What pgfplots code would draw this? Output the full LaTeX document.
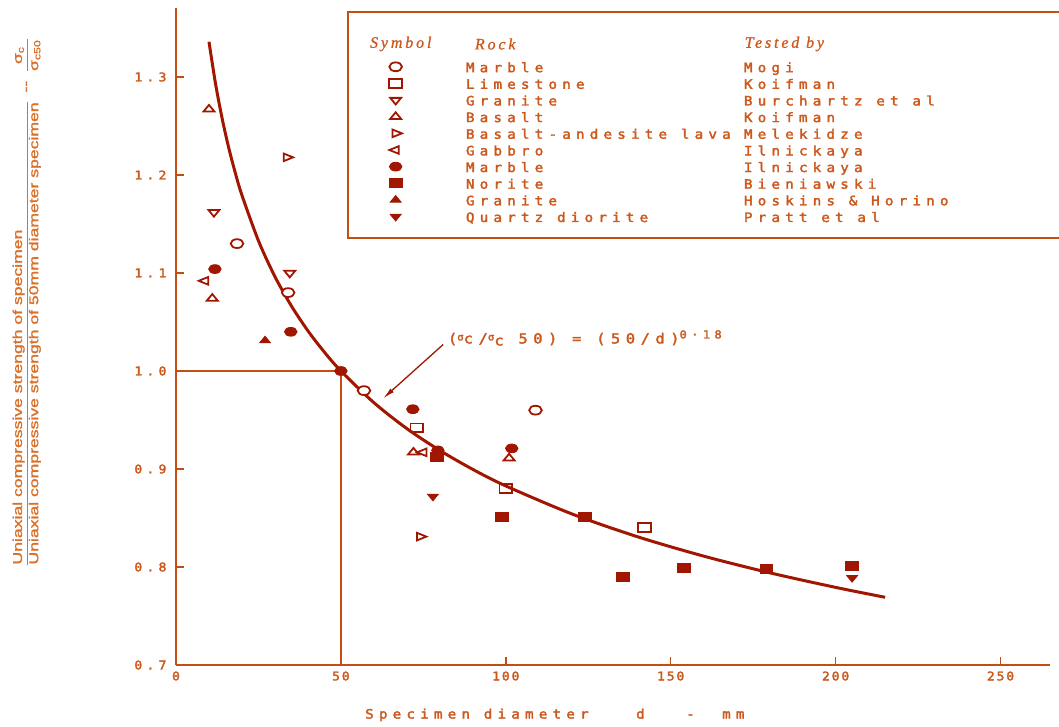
\documentclass[border=0pt]{standalone}
\usepackage{fontspec}
\usepackage{graphicx}
\usepackage{pgfplots}
\pgfplotsset{compat=1.18}
\usetikzlibrary{arrows.meta}

\setmainfont{DejaVu Sans Mono}
% typewriter-like lettering used throughout the figure
\newfontfamily\lgfont[FakeStretch=1.1,LetterSpace=40,FakeBold=2.5]{DejaVu Sans Mono}
\newfontfamily\tkfont[FakeStretch=1.1,LetterSpace=15,FakeBold=2.5]{DejaVu Sans Mono}
\newfontfamily\ytkfont[FakeStretch=1.1,LetterSpace=35,FakeBold=2.5]{DejaVu Sans Mono}
\newfontfamily\hdfont[LetterSpace=18,FakeBold=1]{Liberation Serif}
\newfontfamily\ylfont[FakeBold=1.5]{Liberation Sans}

\definecolor{ink}{RGB}{160,22,0}
\definecolor{axc}{RGB}{195,78,18}
\definecolor{txt}{RGB}{205,88,28}
\definecolor{ylab}{RGB}{218,112,42}

% one legend row: strut, gap after the symbol, rock, tested by
\newcommand\lgrow[2]{\rule[-4.3bp]{0pt}{16.55bp}\hspace*{64bp}\makebox[278bp][l]{#1}\makebox[330bp][l]{#2}}

\pgfplotsset{
  openmk/.style={only marks, mark size=6.3bp,
    mark options={solid, yscale=0.7, rotate=#1, draw=ink, fill=white, line width=1.8pt}},
  openmk/.default=0,
  fullmk/.style={only marks, mark size=6.3bp,
    mark options={solid, yscale=0.7, rotate=#1, draw=ink, fill=ink, line width=0.8pt}},
  fullmk/.default=0,
}

\begin{document}
\begin{tikzpicture}
\begin{axis}[
  name=ax,
  scale only axis,
  width=874bp, height=657bp,
  xmin=0, xmax=265, ymin=0.7, ymax=1.3704,
  clip=false,
  axis x line=bottom, axis y line=left,
  axis line style={axc, line width=1.8pt, -},
  xtick={0,50,100,150,200,250},
  xticklabels={0,50,100,150,200,250},
  ytick={0.7,0.8,0.9,1.0,1.1,1.2,1.3},
  yticklabels={0.7,0.8,0.9,1.0,1.1,1.2,1.3},
  tick align=inside,
  major tick length=8bp,
  tick style={axc, line width=1.5pt},
  xticklabel style={font=\tkfont\fontsize{12}{14}\selectfont, text=txt, yshift=-3bp},
  yticklabel style={font=\ytkfont\fontsize{12}{14}\selectfont, text=txt, anchor=east, xshift=-6bp},
  legend style={at={(0.2439,0.9213)}, anchor=north west, draw=none, fill=none,
    inner sep=0pt, row sep=2.9bp,
    font=\lgfont\fontsize{13}{15}\selectfont, text=txt,
    nodes={inner sep=0pt}},
  legend cell align=left,
  legend image code/.code={\draw[#1] plot coordinates {(0bp,0bp)};},
]

% size-effect relation (sigma_c / sigma_c50) = (50/d)^0.18
\addplot[ink, line width=3pt, smooth, no marks, forget plot] coordinates {
  (10,1.3360) (12,1.2929) (14,1.2575) (16,1.2276) (18,1.2019) (20,1.1793)
  (25,1.1329) (30,1.0963) (35,1.0663) (40,1.0410) (45,1.0192) (50,1.0000)
  (60,0.9677) (70,0.9412) (80,0.9189) (90,0.8996) (100,0.8827) (120,0.8542)
  (140,0.8308) (160,0.8111) (180,0.7941) (200,0.7792) (215,0.7691)
};

% reference strength at d = 50 mm
\addplot[axc, line width=1.3pt, no marks, forget plot] coordinates {(0,1.0) (50,1.0) (50,0.7)};

% Marble - Mogi
\addplot[openmk] coordinates {(18.5,1.130) (34,1.080) (57,0.980) (109,0.960)};
\addlegendentry{\lgrow{Marble}{Mogi}}
% Limestone - Koifman
\addplot[openmk, mark=square] coordinates {(73,0.942) (100,0.880) (142,0.840)};
\addlegendentry{\lgrow{Limestone}{Koifman}}
% Granite - Burchartz et al
\addplot[openmk=180, mark=triangle] coordinates {(11.5,1.162) (34.5,1.100)};
\addlegendentry{\lgrow{Granite}{Burchartz et al}}
% Basalt - Koifman
\addplot[openmk, mark=triangle] coordinates {(10,1.267) (11,1.074) (72,0.917) (101,0.911)};
\addlegendentry{\lgrow{Basalt}{Koifman}}
% Basalt-andesite lava - Melekidze
\addplot[openmk=-90, mark=triangle] coordinates {(33.6,1.218) (74,0.831)};
\addlegendentry{\lgrow{Basalt-andesite lava}{Melekidze}}
% Gabbro - Ilnickaya
\addplot[openmk=90, mark=triangle] coordinates {(8.8,1.092) (75,0.917)};
\addlegendentry{\lgrow{Gabbro}{Ilnickaya}}
% Marble - Ilnickaya
\addplot[fullmk, mark=*] coordinates {(11.8,1.104) (34.8,1.040) (50,1.000) (71.8,0.961) (79.4,0.919) (101.8,0.921)};
\addlegendentry{\lgrow{Marble}{Ilnickaya}}
% Norite - Bieniawski
\addplot[fullmk, mark=square*] coordinates {(79.1,0.912) (98.8,0.851) (123.9,0.851) (135.5,0.790) (154,0.799) (179,0.798) (205,0.801)};
\addlegendentry{\lgrow{Norite}{Bieniawski}}
% Granite - Hoskins & Horino
\addplot[fullmk, mark=triangle*] coordinates {(27,1.031)};
\addlegendentry{\lgrow{Granite}{Hoskins \& Horino}}
% Quartz diorite - Pratt et al
\addplot[fullmk=180, mark=triangle*] coordinates {(77.9,0.872) (205,0.789)};
\addlegendentry{\lgrow{Quartz diorite}{Pratt et al}}

% legend frame and column headings
\draw[axc, line width=1.8pt] (axis cs:52.1,1.3663) rectangle (axis cs:272,1.1357);
\node[anchor=west, text=txt, font=\hdfont\itshape\fontsize{16}{18}\selectfont, inner sep=0pt] at (axis cs:58.8,1.3337) {Symbol};
\node[anchor=west, text=txt, font=\hdfont\itshape\fontsize{16}{18}\selectfont, inner sep=0pt] at (axis cs:90.6,1.3337) {Rock};
\node[anchor=west, text=txt, font=\hdfont\itshape\fontsize{16}{18}\selectfont, inner sep=0pt] at (axis cs:172.4,1.3337) {Tested by};

% formula callout
\draw[ink, line width=1.3pt, {Latex[length=12bp,width=5bp]}-] (axis cs:62.8,0.972) -- (axis cs:81,1.027);
\node[anchor=west, text=txt, inner sep=0pt, font=\lgfont\fontsize{14}{16}\selectfont] at (axis cs:82.4,1.0337)
  {(\raisebox{3bp}{\fontsize{10}{11}\selectfont σ}c/\raisebox{3bp}{\fontsize{10}{11}\selectfont σ}\raisebox{-2bp}{c} 50) = (50/d)\raisebox{5bp}{\fontsize{11}{12}\selectfont 0·18}};

% axis titles
\node[anchor=west, text=txt, inner sep=0pt, font=\lgfont\fontsize{13}{15}\selectfont] at (axis cs:57.3,0.649)
  {\makebox[271bp][l]{Specimen diameter}\makebox[50bp][l]{d}\makebox[36bp][l]{-}mm};
\node[rotate=90, text=ylab, inner sep=0pt, font=\ylfont\fontsize{13}{16}\selectfont] at (axis cs:-45.2,1.0704)
  {\resizebox*{525bp}{32bp}{\begin{tabular}{@{}l@{}}Uniaxial compressive strength of specimen\\\hline
   Uniaxial compressive strength of 50mm diameter specimen\end{tabular}\ \ --\ \ \begin{tabular}{@{}c@{}}σ\textsubscript{c}\\\hline σ\textsubscript{c50}\end{tabular}}};
\end{axis}
\pgfresetboundingbox
\path[use as bounding box] (ax.south west) ++(-176bp,-62bp) rectangle ++(1059bp,727bp);
\end{tikzpicture}
\end{document}
